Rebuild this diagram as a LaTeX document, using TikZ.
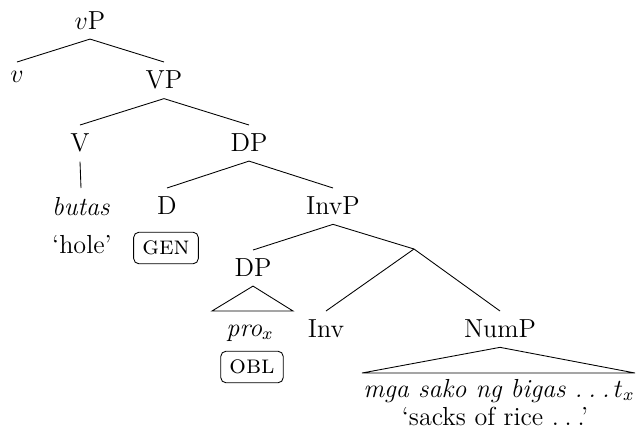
\documentclass[tikz,border=0pt]{standalone}
\newcommand{\dotsgap}{.\hspace{0.22em}.\hspace{0.22em}.}
\begin{document}
\begin{tikzpicture}[x=0.46pt, y=-0.46pt, font=\fontsize{12}{14.5}\selectfont,
  cat/.style={anchor=north, inner sep=4pt},
  leaf/.style={anchor=base, inner sep=0pt},
  feat/.style={draw, rounded corners=2.4pt, inner sep=4pt, font=\fontsize{12}{14.5}\selectfont\scshape}]
  \useasboundingbox (0,0) rectangle (636,445);

  \node[cat] (vP) at (90,3) {$v$P};
  \node[cat] (v) at (17,62) {$v$};
  \node[cat] (VP) at (164,62) {VP};
  \node[cat] (V) at (80,125) {V};
  \node[cat] (DPa) at (249,125) {DP};
  \node[cat] (butas) at (81,188) {\textit{butas}};
  \node[leaf] (hole) at (82,253) {`hole'};
  \node[cat] (D) at (167,188) {D};
  \node[feat] (gen) at (166,248) {gen};
  \node[cat] (InvP) at (333,188) {InvP};
  \coordinate (invbar) at (414,249);
  \node[cat] (DPb) at (253,250) {DP};
  \coordinate (proL) at (212,311);
  \coordinate (proR) at (293,311);
  \node[leaf] (pro) at (250,336) {\textit{pro}$_x$};
  \node[feat] (obl) at (252,367) {obl};
  \node[cat] (Inv) at (326,311) {Inv};
  \node[cat] (NumP) at (500,311) {NumP};
  \coordinate (numL) at (362,373);
  \coordinate (numR) at (635,373);
  \node[leaf] (mga) at (499,397) {\textit{mga sako ng bigas \dotsgap}\,$t_x$};
  \node[leaf] (sacks) at (495,425) {`sacks of rice \dotsgap'};

  \draw (vP.south) -- (v.north);
  \draw (vP.south) -- (VP.north);
  \draw (VP.south) -- (V.north);
  \draw (VP.south) -- (DPa.north);
  \draw (V.south) -- (butas.north);
  \draw (DPa.south) -- (D.north);
  \draw (DPa.south) -- (InvP.north);
  \draw (InvP.south) -- (DPb.north);
  \draw (InvP.south) -- (invbar);
  \draw (invbar) -- (Inv.north);
  \draw (invbar) -- (NumP.north);
  \draw (DPb.south) -- (proL) -- (proR) -- cycle;
  \draw (NumP.south) -- (numL) -- (numR) -- cycle;
\end{tikzpicture}
\end{document}
